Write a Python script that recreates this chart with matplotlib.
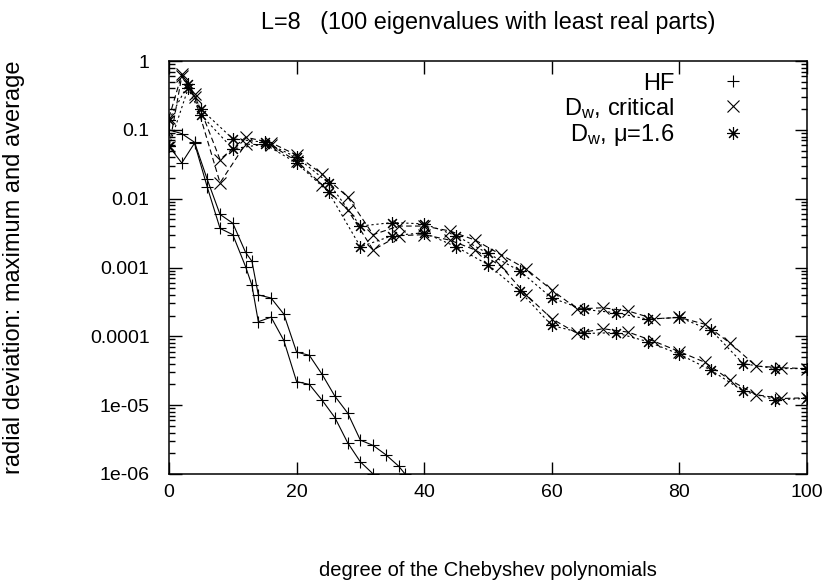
import numpy as np
import matplotlib.pyplot as plt
from matplotlib.lines import Line2D

plt.rcParams['font.family'] = ['Liberation Sans', 'DejaVu Sans']
plt.rcParams['font.size'] = 14
plt.rcParams['mathtext.fontset'] = 'custom'
plt.rcParams['mathtext.rm'] = 'Liberation Sans'
plt.rcParams['mathtext.it'] = 'Liberation Sans'

# HF: maximum and average
hf_max_x = [0, 2, 4, 6, 8, 10, 12, 13, 14, 16, 18, 20, 22, 24, 26, 28, 30, 32, 34, 36, 37]
hf_max = [0.1, 0.088, 0.066, 0.019, 0.0059, 0.0044, 0.00166, 0.00123, 0.0004, 0.00036, 0.00021,
          5.9e-5, 5.3e-5, 2.8e-5, 1.35e-5, 7.7e-6, 3.1e-6, 2.6e-6, 1.9e-6, 1.3e-6, 1.0e-6]
hf_avg_x = [0, 2, 4, 6, 8, 10, 12, 13, 14, 16, 18, 20, 22, 24, 26, 28, 30, 32, 34]
hf_avg = [0.058, 0.033, 0.064, 0.0147, 0.0037, 0.0030, 0.00103, 0.00055, 0.000163, 0.00019, 8.7e-5,
          2.2e-5, 2.0e-5, 1.18e-5, 6.6e-6, 2.85e-6, 1.5e-6, 1.0e-6, 5e-7]

# D_w, critical
crit_x = [0, 2, 4, 8, 12, 16, 20, 24, 28, 32, 36, 40, 44, 48, 52, 56, 60, 64, 68, 72, 76, 80, 84, 88, 92, 96, 100]
crit_max = [0.15, 0.64, 0.33, 0.037, 0.078, 0.065, 0.043, 0.0227, 0.0106, 0.003, 0.0040, 0.0040, 0.0034,
            0.0025, 0.00154, 0.00095, 0.00047, 0.00025, 0.00026, 0.000233, 0.00018, 0.000188, 0.00015,
            7.9e-5, 3.7e-5, 3.5e-5, 3.4e-5]
crit_avg = [0.056, 0.6, 0.3, 0.017, 0.062, 0.06, 0.035, 0.016, 0.0069, 0.0018, 0.0029, 0.0030, 0.0025,
            0.0018, 0.00105, 0.0004, 0.00018, 0.00011, 0.000129, 0.000115, 8.5e-5, 6e-5, 4.2e-5,
            2.3e-5, 1.42e-5, 1.25e-5, 1.28e-5]

# D_w, mu=1.6
mu_x = [0, 3, 5, 10, 15, 20, 25, 30, 35, 40, 45, 50, 55, 60, 65, 70, 75, 80, 85, 90, 95, 100]
mu_max = [0.14, 0.46, 0.2, 0.074, 0.066, 0.04, 0.017, 0.0040, 0.0045, 0.0043, 0.0029, 0.0016, 0.00089,
          0.00036, 0.000246, 0.00022, 0.000178, 0.000188, 0.000122, 4.0e-5, 3.4e-5, 3.4e-5]
mu_avg = [0.058, 0.4, 0.166, 0.053, 0.062, 0.033, 0.0125, 0.0020, 0.0029, 0.0032, 0.0020, 0.0011, 0.00045,
          0.000144, 0.00011, 0.000113, 8.4e-5, 5.5e-5, 3.2e-5, 1.6e-5, 1.2e-5, 1.25e-5]

x_ticks = [0, 20, 40, 60, 80, 100]
y_ticks = [1, 0.1, 0.01, 0.001, 0.0001, 1e-5, 1e-6]
y_tick_labels = ['1', '0.1', '0.01', '0.001', '0.0001', '1e-05', '1e-06']

W, H = 832, 584
top, bottom = 61, 474
fig = plt.figure(figsize=(W / 100, H / 100), dpi=100)
ax = fig.add_axes([169 / W, 1 - bottom / H, (807 - 169) / W, (bottom - top) / H])

star = (8, 2, 0)
ms = 9
kw = dict(color='black', lw=0.8, mew=0.8, ms=ms)

ax.plot(hf_max_x, hf_max, marker='+', ls='-', **kw)
ax.plot(hf_avg_x, hf_avg, marker='+', ls='-', **kw)
ax.plot(crit_x, crit_max, marker='x', ls=(0, (5, 3)), **kw)
ax.plot(crit_x, crit_avg, marker='x', ls=(0, (5, 3)), **kw)
ax.plot(mu_x, mu_max, marker=star, ls=(0, (2, 2.5)), **kw)
ax.plot(mu_x, mu_avg, marker=star, ls=(0, (2, 2.5)), **kw)

ax.set_yscale('log')
ax.set_xlim(0, 100)
ax.set_ylim(1e-6, 1)
ax.set_xticks(x_ticks)
ax.set_yticks(y_ticks)
ax.set_yticklabels(y_tick_labels)
ax.minorticks_off()
ax.set_yticks([m * 10.0 ** e for e in range(-6, 0) for m in range(2, 10)], minor=True)
ax.tick_params(which='both', direction='in', top=True, right=True, width=1.0)
ax.tick_params(which='major', length=9)
ax.tick_params(which='minor', length=4.5)
ax.tick_params(axis='y', pad=14)
ax.tick_params(axis='x', pad=7)
for s in ax.spines.values():
    s.set_linewidth(1.1)

ax.set_title('L=8   (100 eigenvalues with least real parts)', pad=23)
ax.set_xlabel('degree of the Chebyshev polynomials', fontsize=14.5)
ax.set_ylabel('radial deviation: maximum and average', fontsize=17)
ax.xaxis.set_label_coords(0.5, -0.21)
ax.yaxis.set_label_coords(-0.226, 0.5)

handles = [Line2D([], [], ls='none', marker='+', color='black', ms=ms, mew=0.8),
           Line2D([], [], ls='none', marker='x', color='black', ms=ms, mew=0.8),
           Line2D([], [], ls='none', marker=star, color='black', ms=ms, mew=0.8)]
labels = ['HF', r'D$_\mathrm{w}$, critical', r'D$_\mathrm{w}$, $\mathrm{\mu}$=1.6']
ax.legend(handles, labels, loc='upper right', bbox_to_anchor=(0.914, 0.972), markerfirst=False,
          frameon=False, borderpad=0, borderaxespad=0, handlelength=1.6, handletextpad=1.7,
          labelspacing=0.05, fontsize=17)

fig.savefig('out.png', dpi=100)
